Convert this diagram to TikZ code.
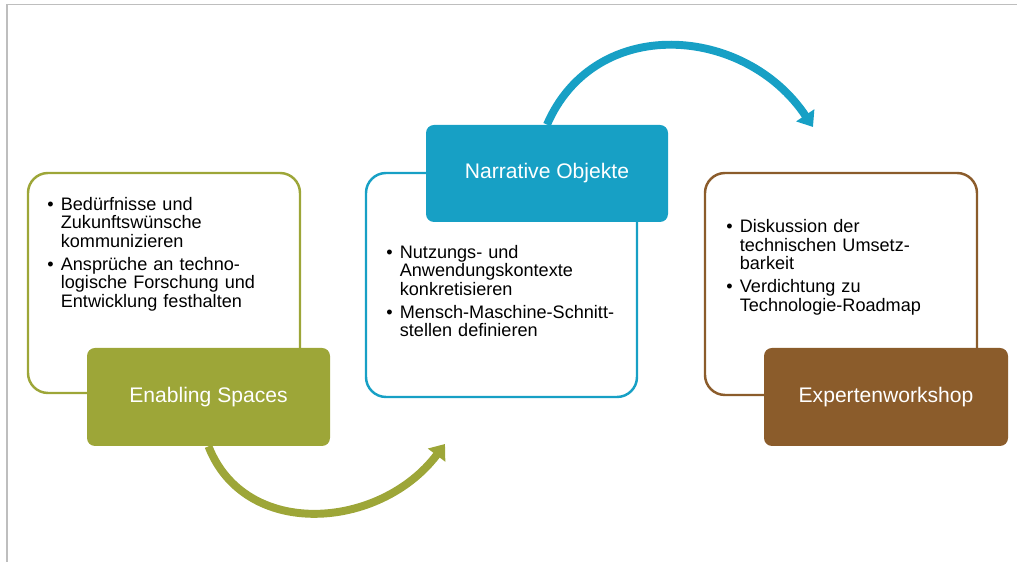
\documentclass[tikz,border=0pt]{standalone}
\usepackage{fontspec}
\setmainfont{Liberation Sans}
\usetikzlibrary{arrows.meta}

\definecolor{olivegreen}{RGB}{157,166,56}
\definecolor{tealblue}{RGB}{23,160,197}
\definecolor{woodbrown}{RGB}{139,92,43}
\definecolor{framegray}{RGB}{190,190,190}

\newcommand{\bpoint}[1]{\hangindent=0.27cm\hangafter=1\noindent\makebox[0.27cm][l]{\textbullet}#1\par}

\begin{document}
\begin{tikzpicture}
		\tikzstyle{every node}=[font=\fontsize{10.3}{10.5}\selectfont]
		\tikzstyle{outline}=[draw, line width=1.4pt, rounded corners=0.4cm, minimum width=5.44cm, minimum height=4.44cm]
		\tikzstyle{stage}=[rounded corners=0.16cm, minimum width=4.86cm, minimum height=1.96cm, text=white, font=\fontsize{12}{14}\selectfont]
		\tikzstyle{txt}=[anchor=north west, inner sep=0, text width=4.9cm, execute at begin node={\raggedright\setlength{\parskip}{2.6pt}}]
		\tikzstyle{cyclearrow}=[line width=4.5pt, -{Triangle[length=0.28cm,width=0.42cm]}]
		
		\useasboundingbox (0,0) rectangle (20.34,11.24);
		\draw [line width=1pt, color=framegray] (0.14,0) -- (0.14,11.15) -- (20.34,11.15);
		
		% outlined boxes
		\node [outline, color=olivegreen, minimum height=4.40cm] (b1) at (3.28,5.58) {};
		\node [outline, color=tealblue, minimum width=5.42cm, minimum height=4.48cm] (b2) at (10.03,5.54) {};
		\node [outline, color=woodbrown] (b3) at (16.82,5.56) {};
		
		\node [txt] (t1) at (0.94,7.30) {\bpoint{Bedürfnisse und\newline Zukunftswünsche\newline kommunizieren}\bpoint{Ansprüche an techno-\newline logische Forschung und\newline Entwicklung festhalten}};
		\node [txt] (t2) at (7.72,6.34) {\bpoint{Nutzungs- und\newline Anwendungskontexte\newline konkretisieren}\bpoint{Mensch-Maschine-Schnitt-\newline stellen definieren}};
		\node [txt] (t3) at (14.52,6.85) {\bpoint{Diskussion der\newline technischen Umsetz-\newline barkeit}\bpoint{Verdichtung zu\newline Technologie-Roadmap}};
		
		% filled boxes
		\node [stage, fill=olivegreen] (es) at (4.17,3.30) {Enabling Spaces};
		\node [stage, fill=tealblue, minimum width=4.84cm, minimum height=1.94cm] (no) at (10.94,7.77) {Narrative Objekte};
		\node [stage, fill=woodbrown, minimum width=4.88cm] (ew) at (17.72,3.30) {Expertenworkshop};
		
		% arrows
		\coordinate (gtip) at (8.90,2.36);
		\coordinate (btip) at (16.26,8.70);
		\draw [cyclearrow, color=olivegreen] (es.south) .. controls (4.90,0.44) and (7.60,0.64) .. (gtip);
		\draw [cyclearrow, color=tealblue] (no.north) .. controls (11.90,10.96) and (14.90,10.74) .. (btip);
		
\end{tikzpicture}
\end{document}
